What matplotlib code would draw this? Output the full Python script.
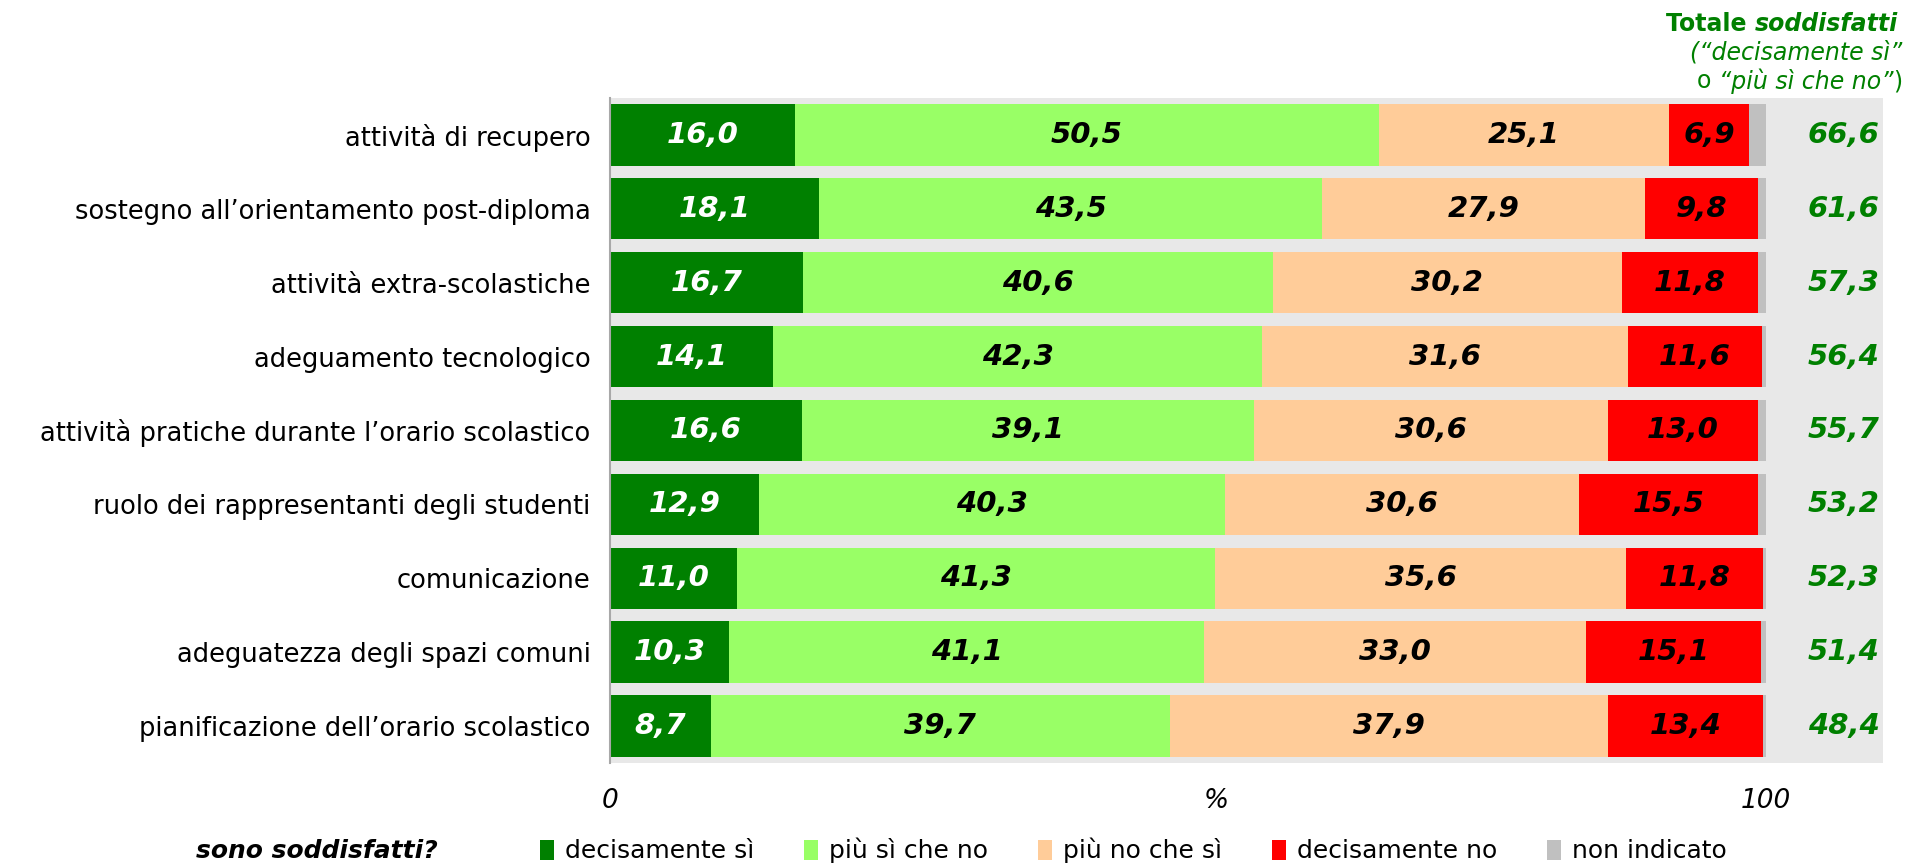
import numpy as np
import matplotlib.pyplot as plt
from matplotlib.patches import Patch

# dati
categorie = ["attività di recupero",
             "sostegno all’orientamento post-diploma",
             "attività extra-scolastiche",
             "adeguamento tecnologico",
             "attività pratiche durante l’orario scolastico",
             "ruolo dei rappresentanti degli studenti",
             "comunicazione",
             "adeguatezza degli spazi comuni",
             "pianificazione dell’orario scolastico"]
decisamente_si = [16.0, 18.1, 16.7, 14.1, 16.6, 12.9, 11.0, 10.3, 8.7]
piu_si_che_no = [50.5, 43.5, 40.6, 42.3, 39.1, 40.3, 41.3, 41.1, 39.7]
piu_no_che_si = [25.1, 27.9, 30.2, 31.6, 30.6, 30.6, 35.6, 33.0, 37.9]
decisamente_no = [6.9, 9.8, 11.8, 11.6, 13.0, 15.5, 11.8, 15.1, 13.4]
non_indicato = [1.5, 0.7, 0.7, 0.4, 0.7, 0.7, 0.3, 0.5, 0.3]
totale_soddisfatti = [66.6, 61.6, 57.3, 56.4, 55.7, 53.2, 52.3, 51.4, 48.4]

serie = [decisamente_si, piu_si_che_no, piu_no_che_si, decisamente_no, non_indicato]
nomi_serie = ["decisamente sì", "più sì che no", "più no che sì", "decisamente no", "non indicato"]
colori = ["#008000", "#99FF66", "#FFCC99", "#FF0000", "#C0C0C0"]
colori_testo = ["white", "black", "black", "black", None]
verde = "#008000"

fig = plt.figure(figsize=(19.06, 8.67), dpi=100)
ax = fig.add_axes([0.320, 0.120, 0.668, 0.767])
ax.set_facecolor("#E8E8E8")

y = np.arange(len(categorie))
left = np.zeros(len(categorie))
for vals, col, tcol in zip(serie, colori, colori_testo):
    vals = np.array(vals)
    ax.barh(y, vals, left=left, height=0.83, color=col, edgecolor="none")
    if tcol is not None:
        for yi, (l, v) in enumerate(zip(left, vals)):
            ax.text(l + v / 2, yi, f"{v:.1f}".replace(".", ","), ha="center", va="center",
                    color=tcol, fontsize=21, fontweight="bold", fontstyle="italic")
    left += vals

for yi, t in enumerate(totale_soddisfatti):
    ax.text(109.8, yi, f"{t:.1f}".replace(".", ","), ha="right", va="center",
            color=verde, fontsize=21, fontweight="bold", fontstyle="italic")

ax.set_xlim(0, 110.1)
ax.set_ylim(len(categorie) - 0.5, -0.5)
ax.set_yticks(y)
ax.set_yticklabels(categorie, fontsize=18.5)
ax.set_xticks([0, 52.4, 100])
ax.set_xticklabels(["0", "%", "100"], fontsize=19, fontstyle="italic")
ax.tick_params(length=0)
ax.tick_params(axis="x", pad=18)
ax.tick_params(axis="y", pad=14)
for s in ["top", "right", "bottom"]:
    ax.spines[s].set_visible(False)
ax.spines["left"].set_color("#A8A8A8")
ax.spines["left"].set_linewidth(1.5)

# intestazione colonna totali
t1 = fig.text(0.996, 0.972, "soddisfatti", ha="right", va="center", color=verde,
              fontsize=17, fontweight="bold", fontstyle="italic")
fig.canvas.draw()
ax.annotate("Totale ", xy=(0, 0.5), xycoords=t1, ha="right", va="center",
            color=verde, fontsize=17, fontweight="bold")
fig.text(0.998, 0.939, "(“decisamente sì”", ha="right", va="center", color=verde,
         fontsize=17, fontstyle="italic")
t3 = fig.text(0.998, 0.906, ")", ha="right", va="center", color=verde, fontsize=17)
t4 = ax.annotate("“più sì che no”", xy=(0, 0.5), xycoords=t3, ha="right", va="center",
                 color=verde, fontsize=17, fontstyle="italic")
ax.annotate("o ", xy=(0, 0.5), xycoords=t4, ha="right", va="center",
            color=verde, fontsize=17)

# legenda
fig.text(0.166, 0.019, "sono soddisfatti?", ha="center", va="center",
         fontsize=18, fontweight="bold", fontstyle="italic")
handles = [Patch(facecolor=c, edgecolor="none") for c in colori]
fig.legend(handles, nomi_serie, loc="center left", bbox_to_anchor=(0.278, 0.019),
           ncol=5, frameon=False, fontsize=18, handlelength=0.55, handleheight=0.85,
           handletextpad=0.45, columnspacing=2.0, borderaxespad=0)

fig.savefig("out.png", dpi=100)
